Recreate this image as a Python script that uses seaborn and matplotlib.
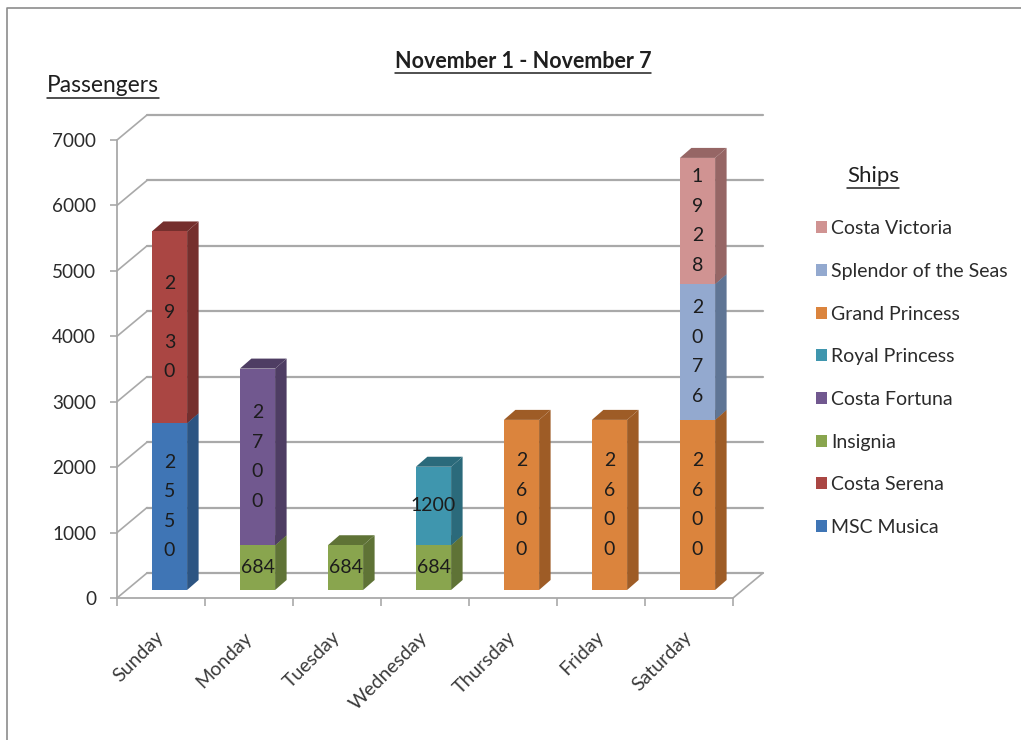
import numpy as np
import matplotlib
matplotlib.use("Agg")
import matplotlib.pyplot as plt
import seaborn as sns
from matplotlib.lines import Line2D
from matplotlib.patches import Patch, Polygon
from matplotlib.transforms import Affine2D, IdentityTransform

days = ["Sunday", "Monday", "Tuesday", "Wednesday", "Thursday", "Friday", "Saturday"]
msc_musica = [2550, 0, 0, 0, 0, 0, 0]
costa_serena = [2930, 0, 0, 0, 0, 0, 0]
insignia = [0, 684, 684, 684, 0, 0, 0]
costa_fortuna = [0, 2700, 0, 0, 0, 0, 0]
royal_princess = [0, 0, 0, 1200, 0, 0, 0]
grand_princess = [0, 0, 0, 0, 2600, 2600, 2600]
splendor = [0, 0, 0, 0, 0, 0, 2076]
costa_victoria = [0, 0, 0, 0, 0, 0, 1928]
series_names = ["MSC Musica", "Costa Serena", "Insignia", "Costa Fortuna",
                "Royal Princess", "Grand Princess", "Splendor of the Seas", "Costa Victoria"]
series_values = [msc_musica, costa_serena, insignia, costa_fortuna,
                 royal_princess, grand_princess, splendor, costa_victoria]
front_colors = ["#3F75B5", "#AA4643", "#89A54E", "#71588F", "#3F96AE", "#DB843D", "#93A9CF", "#D09392"]
side_colors = ["#2C5482", "#752F2D", "#5F7336", "#4E3D63", "#2B6A7B", "#9E5C26", "#5F7595", "#966665"]
y_ticks = [0, 1000, 2000, 3000, 4000, 5000, 6000, 7000]

sns.set_theme(style="white")
FONT = ["Lato", "DejaVu Sans"]
plt.rcParams["font.family"] = FONT
W, H = 1021, 740
fig = plt.figure(figsize=(W / 100, H / 100), dpi=100, facecolor="white")
L, R, T, B = 117, 733, 140, 598
ax = fig.add_axes([L / W, 1 - B / H, (R - L) / W, (B - T) / H])
ax.patch.set_alpha(0)

GRID = "#A9A9A9"
TXT = "#2b2b2b"
FS = 14
BACK_DX, BACK_DY = 30, 25
BAR_DX, BAR_DY = 8.5, 8
SIDE_DX, SIDE_DY = 11.5, 10

bottom = np.zeros(len(days))
for name, values, fc, sc in zip(series_names, series_values, front_colors, side_colors):
    n_before = len(ax.patches)
    sns.barplot(x=days, y=values, bottom=bottom, color=fc, saturation=1, width=0.4,
                order=days, ax=ax, linewidth=0, zorder=3, errorbar=None)
    ax.set_xlim(-0.5, 6.5)
    ax.set_ylim(0, 7000)
    for p, v in zip(ax.patches[n_before:], values):
        if v == 0:
            p.set_visible(False)
    bottom = bottom + np.array(values)

# place the bars inside the floor depth and draw their depth faces
ax.figure.canvas.draw()
bar_tf = ax.transData + Affine2D().translate(BAR_DX, BAR_DY)
for p in list(ax.patches):
    if not p.get_visible():
        continue
    x0, x1 = p.get_x(), p.get_x() + p.get_width()
    y0, y1 = p.get_y(), p.get_y() + p.get_height()
    (ax0, ay0), (ax1, ay1) = bar_tf.transform([(x0, y0), (x1, y1)])
    p.set_transform(bar_tf)
    p.set_clip_on(False)
    i = front_colors.index(matplotlib.colors.to_hex(p.get_facecolor()).upper())
    side = Polygon([(ax1, ay0), (ax1 + SIDE_DX, ay0 + SIDE_DY), (ax1 + SIDE_DX, ay1 + SIDE_DY), (ax1, ay1)],
                   closed=True, facecolor=side_colors[i], edgecolor="none",
                   transform=IdentityTransform(), zorder=2.9, clip_on=False)
    top = Polygon([(ax0, ay1), (ax0 + SIDE_DX, ay1 + SIDE_DY), (ax1 + SIDE_DX, ay1 + SIDE_DY), (ax1, ay1)],
                  closed=True, facecolor=side_colors[i], edgecolor="none",
                  transform=IdentityTransform(), zorder=2.9, clip_on=False)
    ax.add_patch(side)
    ax.add_patch(top)

# back wall gridlines, with the diagonal run to the front axis
back_tf = ax.transData + Affine2D().translate(BACK_DX, BACK_DY)
for t in y_ticks:
    ax.plot([-0.5, 6.5], [t, t], transform=back_tf, color=GRID, lw=1.6, zorder=1, clip_on=False)
    (fx, fy) = ax.transData.transform((-0.5, t))
    ax.plot([fx, fx + BACK_DX], [fy, fy + BACK_DY], transform=IdentityTransform(),
            color=GRID, lw=1.2, zorder=1, clip_on=False)
(fx, fy) = ax.transData.transform((6.5, 0))
ax.plot([fx, fx + BACK_DX], [fy, fy + BACK_DY], transform=IdentityTransform(),
        color=GRID, lw=1.2, zorder=1, clip_on=False)

# value labels
bottom = np.zeros(len(days))
for values in series_values:
    for i, v in enumerate(values):
        if v == 0:
            continue
        s = str(v)
        label = s if v < 1500 else "\n".join(s)
        ax.text(i, bottom[i] + v / 2, label, transform=bar_tf, ha="center", va="center",
                fontsize=FS, color="#1c1c1c", linespacing=1.89, zorder=5, clip_on=False)
    bottom = bottom + np.array(values)

# axes styling
sns.despine(ax=ax, top=True, right=True)
for s in ("left", "bottom"):
    ax.spines[s].set_color(GRID)
    ax.spines[s].set_linewidth(1.3)
ax.set_yticks(y_ticks)
ax.set_yticklabels([str(t) for t in y_ticks], fontsize=13.6, color=TXT)
ax.set_xticks(range(len(days)))
ax.set_xticklabels(days, rotation=45, ha="right", rotation_mode="anchor", fontsize=FS, color="#3a3a3a")
ax.set_xticks(np.arange(-0.5, 7, 1), minor=True)
ax.tick_params(axis="x", which="major", length=0, pad=22)
ax.tick_params(axis="x", which="minor", length=6, width=1.2, color=GRID, bottom=True)
ax.tick_params(axis="y", which="major", length=5, width=1.2, color=GRID, left=True, pad=10)
ax.set_xlabel("")
ax.set_ylabel("")
ax.grid(False)
for lab in ax.get_xticklabels():
    lab.set_transform(lab.get_transform() + Affine2D().translate(-6, 0))

# legend
handles = [Patch(facecolor=c, edgecolor="none") for c in front_colors[::-1]]
leg = fig.legend(handles, series_names[::-1], loc="upper left", bbox_to_anchor=(810.5 / W, 1 - 214.5 / H),
                 frameon=False, fontsize=14, labelcolor=TXT, handlelength=0.57, handleheight=0.57,
                 handletextpad=0.2, labelspacing=1.32, borderaxespad=0, borderpad=0.3)

# titles with their underlines
def underlined(x, y, text, **kw):
    t = fig.text(x / W, 1 - y / H, text, ha="center", va="center", color="#1f1f1f", **kw)
    bb = t.get_window_extent(fig.canvas.get_renderer())
    yl = bb.y0 - 1.5
    fig.add_artist(Line2D([bb.x0, bb.x1], [yl, yl], transform=IdentityTransform(), color="#1f1f1f", lw=1.1))
    return t

underlined(523, 61, "November 1 - November 7", fontsize=15.5, fontweight="bold")
underlined(102.5, 86, "Passengers", fontsize=16.4)
underlined(873, 176, "Ships", fontsize=16)

# outer chart frame
fig.add_artist(Line2D([7, 7, W], [0, H - 8, H - 8], transform=IdentityTransform(), color="#8c8c8c", lw=1.2))

fig.savefig("out.png", dpi=100, facecolor="white")
